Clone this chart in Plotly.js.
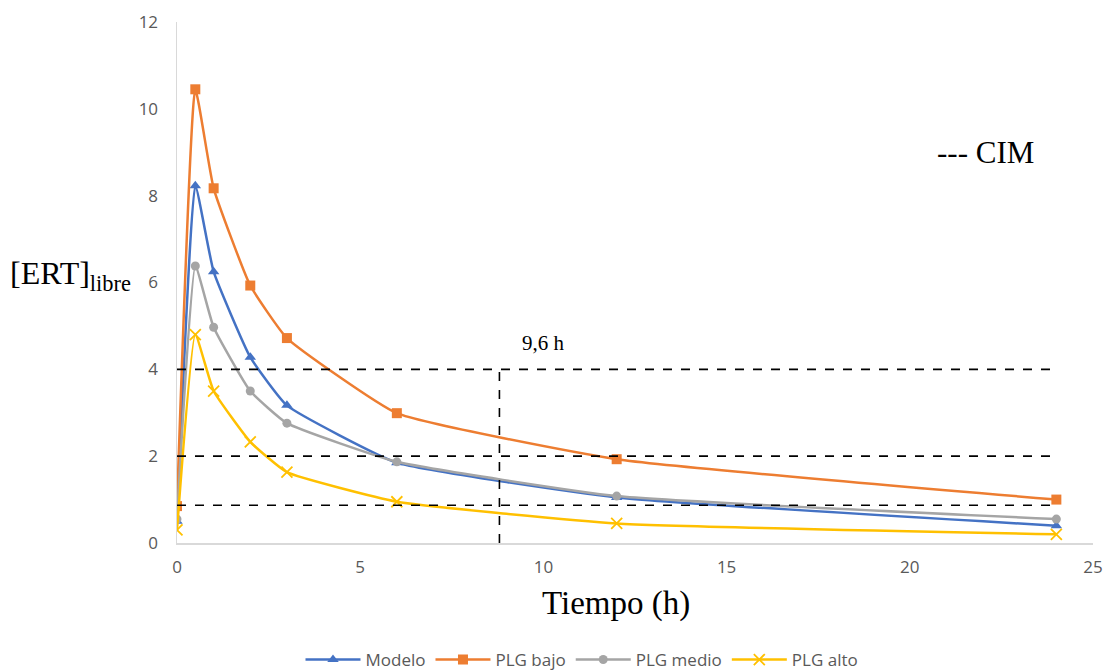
<!DOCTYPE html>
<html>
<head>
<meta charset="utf-8">
<script src="https://cdn.plot.ly/plotly-3.0.1.min.js"></script>
<style>html,body{margin:0;padding:0;background:#fff;}#chart{width:1105px;height:670px;}</style>
</head>
<body>
<div id="chart"></div>
<script>
const tiempo = [0, 0.5, 1, 2, 3, 6, 12, 24];
const modelo = [0.5, 8.23, 6.25, 4.28, 3.17, 1.85, 1.05, 0.4];
const plgBajo = [0.85, 10.45, 8.17, 5.93, 4.72, 2.99, 1.93, 1.0];
const plgMedio = [0.55, 6.38, 4.97, 3.5, 2.76, 1.87, 1.08, 0.55];
const plgAlto = [0.3, 4.8, 3.5, 2.33, 1.63, 0.95, 0.45, 0.2];
const seriesNames = ["Modelo", "PLG bajo", "PLG medio", "PLG alto"];
const cimLevels = [4, 2, 0.87];
const cimXRange = [0, 24];
const cutTime = 8.8;
const xTicks = [0, 5, 10, 15, 20, 25];
const yTicks = [0, 2, 4, 6, 8, 10, 12];

const colors = ["#4472C4", "#ED7D31", "#A5A5A5", "#FFC000"];
const symbols = ["triangle-up", "square", "circle", "x-thin-open"];
const sizes = [10, 10, 9, 11];
const allY = [modelo, plgBajo, plgMedio, plgAlto];

const traces = allY.map((ys, i) => ({
  x: tiempo, y: ys, name: seriesNames[i], type: "scatter", mode: "lines+markers",
  line: {color: colors[i], width: 2.5, shape: "spline", smoothing: 0.4},
  marker: {symbol: symbols[i], size: sizes[i], color: colors[i], line: {color: colors[i], width: i === 3 ? 1.8 : 0}}
}));

const dash = {color: "#000", width: 1.6, dash: "dash"};
const shapes = cimLevels.map(v => ({type: "line", xref: "x", yref: "y", x0: cimXRange[0], x1: cimXRange[1], y0: v, y1: v, line: dash}));
shapes.push({type: "line", xref: "x", yref: "y", x0: cutTime, x1: cutTime, y0: 0, y1: cimLevels[0], line: dash});

const sans = "Open Sans, Liberation Sans, sans-serif";
const serif = "Liberation Serif, DejaVu Serif, serif";

const layout = {
  width: 1105, height: 670,
  margin: {l: 177, r: 12, t: 22, b: 127},
  paper_bgcolor: "#fff", plot_bgcolor: "#fff",
  showlegend: true,
  legend: {orientation: "h", x: 582/1105, xref: "container", xanchor: "center", y: 10/670, yref: "container", yanchor: "middle",
    itemwidth: 55, font: {family: sans, size: 17, color: "#595959"}},
  xaxis: {range: [0, 25], tickvals: xTicks, showgrid: false, zeroline: false,
    showline: true, linecolor: "#D9D9D9", linewidth: 1.5, ticks: "", ticklabelstandoff: 8,
    tickfont: {family: sans, size: 17, color: "#595959"}},
  yaxis: {range: [0, 12], tickvals: yTicks, showgrid: false, zeroline: false,
    showline: true, linecolor: "#D9D9D9", linewidth: 1.5, ticks: "", ticklen: 0, ticklabelstandoff: 14,
    tickfont: {family: sans, size: 17, color: "#595959"}},
  shapes: shapes,
  annotations: [
    {text: "Tiempo (h)", xref: "paper", yref: "paper", x: (616-177)/916, y: (543-603)/521, xanchor: "center", yanchor: "middle", showarrow: false,
      font: {family: serif, size: 33, color: "#000"}},
    {text: "[ERT]<sub>libre</sub>", xref: "paper", yref: "paper", x: (8-177)/916, y: (543-275)/521, xanchor: "left", yanchor: "middle", showarrow: false,
      font: {family: serif, size: 32, color: "#000"}},
    {text: "9,6 h", xref: "x", yref: "y", x: 10.0, y: 4.6, xanchor: "center", yanchor: "middle", showarrow: false,
      font: {family: serif, size: 21, color: "#000"}},
    {text: "--- CIM", xref: "paper", yref: "paper", x: (985-177)/916, y: (543-152)/521, xanchor: "center", yanchor: "middle", showarrow: false,
      font: {family: serif, size: 31, color: "#000"}}
  ]
};

Plotly.newPlot("chart", traces, layout, {displayModeBar: false, staticPlot: true});
</script>
</body>
</html>
